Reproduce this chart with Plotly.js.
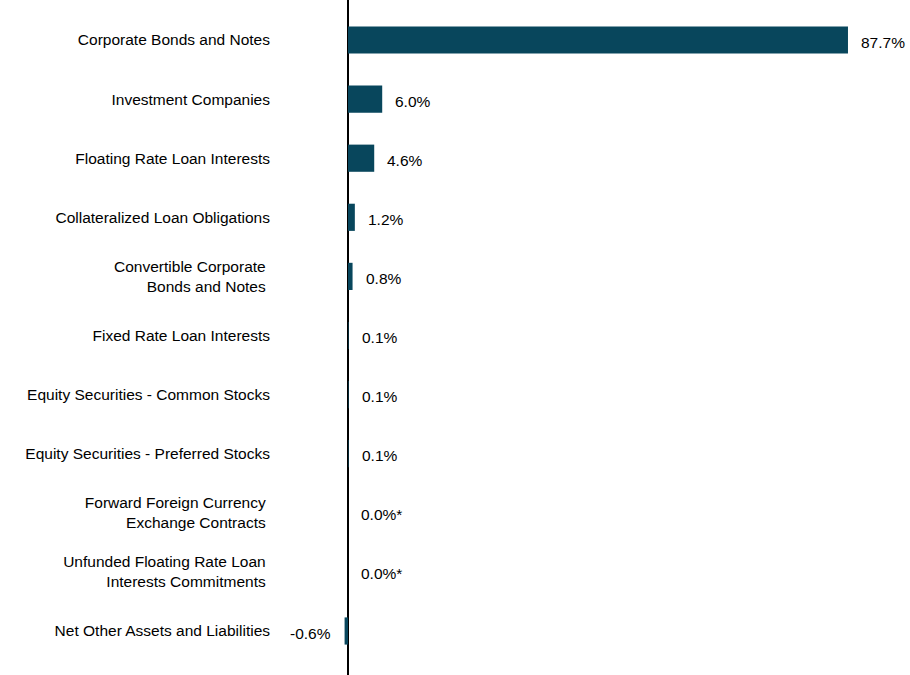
<!DOCTYPE html>
<html>
<head>
<meta charset="utf-8">
<script src="https://cdn.plot.ly/plotly-3.0.1.min.js"></script>
<style>html,body{margin:0;padding:0;background:#fff;}#chart{width:910px;height:675px;}</style>
</head>
<body>
<div id="chart"></div>
<script>
const categories = [
  "Corporate Bonds and Notes",
  "Investment Companies",
  "Floating Rate Loan Interests",
  "Collateralized Loan Obligations",
  "Convertible Corporate\u00a0<br>Bonds and Notes\u00a0",
  "Fixed Rate Loan Interests",
  "Equity Securities - Common Stocks",
  "Equity Securities - Preferred Stocks",
  "Forward Foreign Currency\u00a0<br>Exchange Contracts\u00a0",
  "Unfunded Floating Rate Loan\u00a0<br>Interests Commitments\u00a0",
  "Net Other Assets and Liabilities"
];
const values = [87.7, 6.0, 4.6, 1.2, 0.8, 0.1, 0.1, 0.1, 0.0, 0.0, -0.6];
const valueLabels = ["87.7%", "6.0%", "4.6%", "1.2%", "0.8%", "0.1%", "0.1%", "0.1%", "0.0%*", "0.0%*", "-0.6%"];

const FONT = "'Liberation Sans', Arial, sans-serif";
const BAR = "#08465C";
const ML = 271;

const annotations = values.map((v, i) => ({
  x: v, y: categories[i], xref: 'x', yref: 'y',
  text: valueLabels[i], showarrow: false,
  xanchor: v < 0 ? 'right' : 'left',
  xshift: v < 0 ? -12 : 11, yshift: -2,
  font: {family: FONT, size: 15.5, color: '#000'}
}));

const trace = {
  type: 'bar', orientation: 'h',
  x: values, y: categories,
  marker: {color: BAR},
  hoverinfo: 'skip'
};

const layout = {
  width: 910, height: 675,
  margin: {l: ML, r: 0, t: 0, b: 0, pad: 0},
  paper_bgcolor: '#fff', plot_bgcolor: '#fff',
  bargap: 0.54,
  showlegend: false,
  xaxis: {
    range: [(ML - 348) / 5.701, (910 - 348) / 5.701],
    showgrid: false, showticklabels: false, ticks: '',
    zeroline: true, zerolinecolor: '#000', zerolinewidth: 1.5,
    fixedrange: true
  },
  yaxis: {
    type: 'category',
    range: [10 + (675 - 631) / 59.1, -40 / 59.1],
    showgrid: false, zeroline: false, ticks: '', ticklen: 0,
    tickfont: {family: FONT, size: 15.5, color: '#000'},
    automargin: false, fixedrange: true
  },
  annotations: annotations,
  font: {family: FONT}
};

Plotly.newPlot('chart', [trace], layout, {displayModeBar: false, staticPlot: true});
</script>
</body>
</html>
